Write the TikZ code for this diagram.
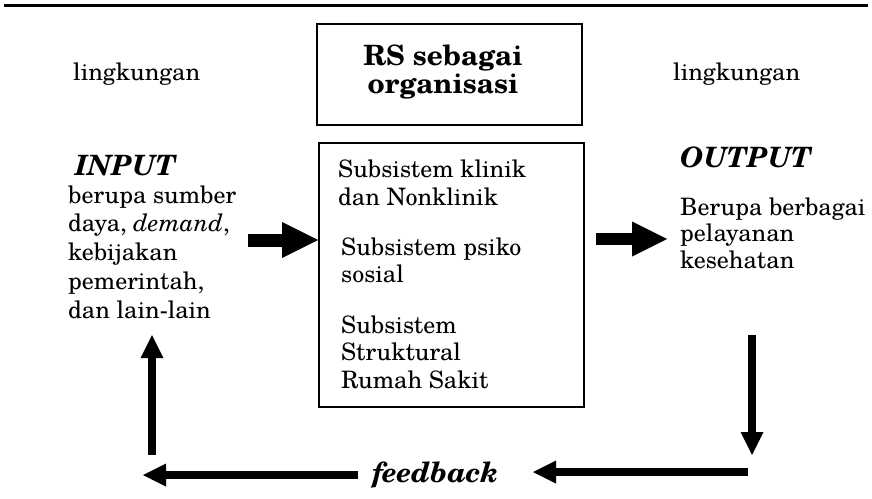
\documentclass[tikz,border=0pt]{standalone}
\usepackage{fontspec}
\setmainfont{TeX Gyre Schola}
\usetikzlibrary{arrows.meta}
\begin{document}
\begin{tikzpicture}[x=1pt,y=-1pt,
  body/.style={inner sep=0pt, anchor=base west},
  heading/.style={inner sep=0pt, anchor=base west,
    font=\fontsize{28}{32}\selectfont\bfseries\itshape},
  frame/.style={draw, line width=1.6pt, inner sep=0pt},
  bigarrow/.style={line width=13pt,
    -{Triangle[length=36pt,width=36pt,line width=0pt]}},
  fbarrow/.style={line width=8pt,
    -{Triangle[length=23pt,width=23pt,line width=0pt]}},
]
\useasboundingbox (0,0) rectangle (872,498);

% rule across the top
\draw[line width=3pt] (4,5) -- (868,5);

% boxes
\node[frame, minimum width=265pt, minimum height=101pt] (orgbox) at (449.5,74.5) {};
\node[frame, minimum width=265pt, minimum height=264pt] (sys) at (451.5,275) {};

\node[inner sep=0pt, anchor=base, font=\fontsize{28}{28}\selectfont\bfseries] (orgtitle) at (443,65)
  {\begin{tabular}[t]{@{}c@{}}RS sebagai\\organisasi\end{tabular}};

% environment labels
\node[body, font=\fontsize{24}{28}\selectfont] (envL) at (73,80) {lingkungan};
\node[body, font=\fontsize{24}{28}\selectfont] (envR) at (673,80) {lingkungan};

% input side
\node[heading] (inhead) at (75,175) {INPUT};
\node[body, font=\fontsize{24}{28.75}\selectfont] (intext) at (68,203)
  {\begin{tabular}[t]{@{}l@{}}berupa sumber\\daya, \emph{demand},\\kebijakan\\pemerintah,\\dan lain-lain\end{tabular}};

% subsystems inside the hospital box
\node[body, font=\fontsize{24}{28}\selectfont] (sub1) at (338,177)
  {\begin{tabular}[t]{@{}l@{}}Subsistem klinik\\dan Nonklinik\end{tabular}};
\node[body, font=\fontsize{24}{27}\selectfont] (sub2) at (341,255)
  {\begin{tabular}[t]{@{}l@{}}Subsistem psiko\\sosial\end{tabular}};
\node[body, font=\fontsize{24}{27.5}\selectfont] (sub3) at (341,333)
  {\begin{tabular}[t]{@{}l@{}}Subsistem\\Struktural\\Rumah Sakit\end{tabular}};

% output side
\node[heading] (outhead) at (680,167) {OUTPUT};
\node[body, font=\fontsize{24}{26.5}\selectfont] (outtext) at (680,215)
  {\begin{tabular}[t]{@{}l@{}}Berupa berbagai\\pelayanan\\kesehatan\end{tabular}};

% feedback label
\node[heading] (fb) at (372,482) {feedback};

% main flow arrows
\coordinate (inStart) at (248,240);
\draw[bigarrow] (inStart) -- (inStart -| sys.west);
\coordinate (outStart) at (596,239);
\coordinate (outEnd) at (667,239);
\draw[bigarrow, line width=12pt,
  -{Triangle[length=35pt,width=35pt,line width=0pt]}] (outStart) -- (outEnd);

% feedback loop
\coordinate (downTop) at (752,335);
\coordinate (downEnd) at (752,455);
\draw[fbarrow] (downTop) -- (downEnd);
\coordinate (backStart) at (748,472);
\coordinate (backTip) at (533,472);
\draw[fbarrow] (backStart) -- (backTip);
\coordinate (leftStart) at (358,475);
\coordinate (leftTip) at (143,475);
\draw[fbarrow] (leftStart) -- (leftTip);
\coordinate (upStart) at (152,455);
\coordinate (upTip) at (152,335);
\draw[fbarrow] (upStart) -- (upTip);
\end{tikzpicture}
\end{document}
